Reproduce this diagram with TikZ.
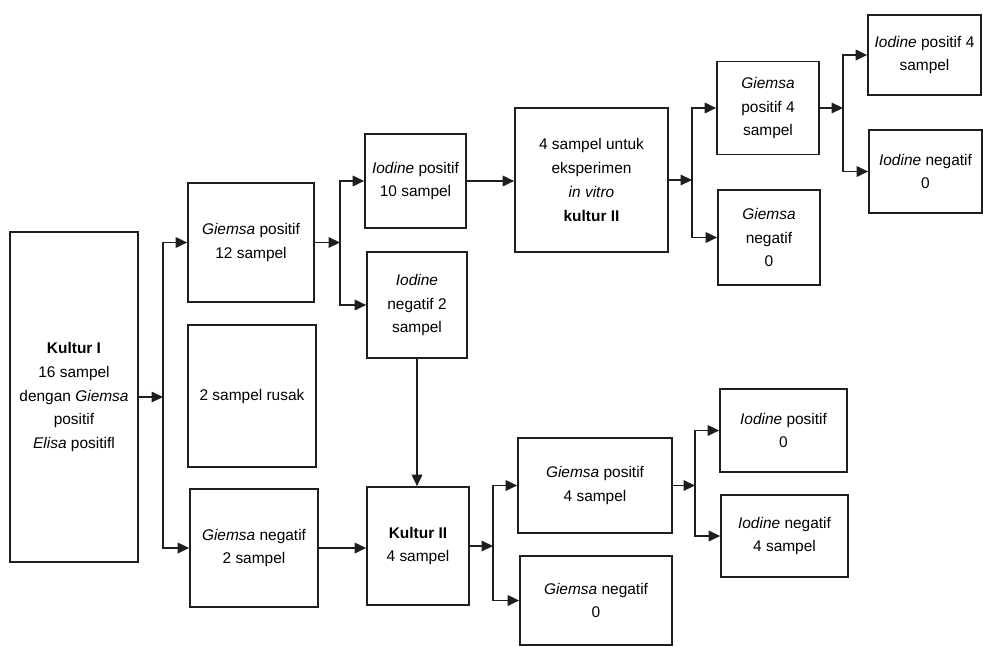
\documentclass[tikz,border=0pt]{standalone}
\usepackage{fontspec}
\setmainfont{Liberation Sans}
\usepackage{tikz}
\usetikzlibrary{arrows.meta,positioning}
\definecolor{flline}{RGB}{30,30,30}

\begin{document}
\begin{tikzpicture}[
  x=0.02cm, y=-0.02cm,
  >={Triangle[length=6.5pt,width=6pt]},
  font=\fontsize{8.8}{13.5}\selectfont,
  edge/.style={->, line width=0.9pt, draw=flline},
  box/.style={draw=flline, line width=1pt, fill=white, align=center, inner sep=0pt}
]
\useasboundingbox (0,0) rectangle (983,646);

\node[box, minimum width=2.56cm, minimum height=6.60cm] (k1) at (74,397)
  {\textbf{Kultur I}\\16 sampel\\dengan \textit{Giemsa}\\positif\\\textit{Elisa} positifl};
\node[box, minimum width=2.52cm, minimum height=2.38cm] (gp12) at (251,242.5) {\textit{Giemsa} positif\\12 sampel};
\node[box, minimum width=2.56cm, minimum height=2.84cm] (rusak) at (252,396) {2 sampel rusak};
\node[box, minimum width=2.56cm, minimum height=2.36cm] (gn2) at (254,548) {\textit{Giemsa} negatif\\2 sampel};
\node[box, minimum width=2.02cm, minimum height=1.88cm] (ip10) at (415.5,181) {\textit{Iodine} positif\\10 sampel};
\node[box, minimum width=2.00cm, minimum height=2.12cm] (in2) at (417,305) {\textit{Iodine}\\negatif 2\\sampel};
\node[box, minimum width=3.06cm, minimum height=2.88cm] (vitro) at (591.5,180)
  {4 sampel untuk\\eksperimen\\\textit{in vitro}\\\textbf{kultur II}};
\node[box, minimum width=2.04cm, minimum height=1.86cm] (gp4t) at (768,108) {\textit{Giemsa}\\positif 4\\sampel};
\node[box, minimum width=2.04cm, minimum height=1.90cm] (gn0t) at (769,237.5) {\textit{Giemsa}\\negatif\\0};
\node[box, minimum width=2.26cm, minimum height=1.60cm] (ip4) at (924.5,55) {\textit{Iodine} positif 4\\sampel};
\node[box, minimum width=2.26cm, minimum height=1.66cm] (in0) at (925.5,171.5) {\textit{Iodine} negatif\\0};
\node[box, minimum width=2.04cm, minimum height=2.36cm] (k2) at (418,546) {\textbf{Kultur II}\\4 sampel};
\node[box, minimum width=3.08cm, minimum height=1.90cm] (gp4b) at (595,485.5) {\textit{Giemsa} positif\\4 sampel};
\node[box, minimum width=3.04cm, minimum height=1.78cm] (gn0b) at (596,600.5) {\textit{Giemsa} negatif\\0};
\node[box, minimum width=2.54cm, minimum height=1.66cm] (ipos0) at (783.5,430.5) {\textit{Iodine} positif\\0};
\node[box, minimum width=2.54cm, minimum height=1.64cm] (ineg4) at (784.5,536) {\textit{Iodine} negatif\\4 sampel};

% branch points
\coordinate (j1) at (163,397);
\coordinate (j2) at (340,242.5);
\coordinate (j3) at (692,180);
\coordinate (j4) at (843,108);
\coordinate (j5) at (493,546);
\coordinate (j6) at (695,485.5);

\draw[edge] (k1.east) -- (j1);
\draw[edge] (j1) |- (gp12.west);
\draw[edge] (j1) |- (gn2.west);
\draw[edge] (gp12.east) -- (j2);
\draw[edge] (j2) |- (ip10.west);
\draw[edge] (j2) |- (in2.west);
\draw[edge] (ip10.east) -- (vitro.west |- ip10.east);
\draw[edge] (vitro.east) -- (j3);
\draw[edge] (j3) |- (gp4t.west);
\draw[edge] (j3) |- (gn0t.west);
\draw[edge] (gp4t.east) -- (j4);
\draw[edge] (j4) |- (ip4.west);
\draw[edge] (j4) |- (in0.west);
\draw[edge] (in2.south) -- (k2.north -| in2.south);
\draw[edge] (gn2.east) -- (k2.west |- gn2.east);
\draw[edge] (k2.east) -- (j5);
\draw[edge] (j5) |- (gp4b.west);
\draw[edge] (j5) |- (gn0b.west);
\draw[edge] (gp4b.east) -- (j6);
\draw[edge] (j6) |- (ipos0.west);
\draw[edge] (j6) |- (ineg4.west);
\end{tikzpicture}
\end{document}
